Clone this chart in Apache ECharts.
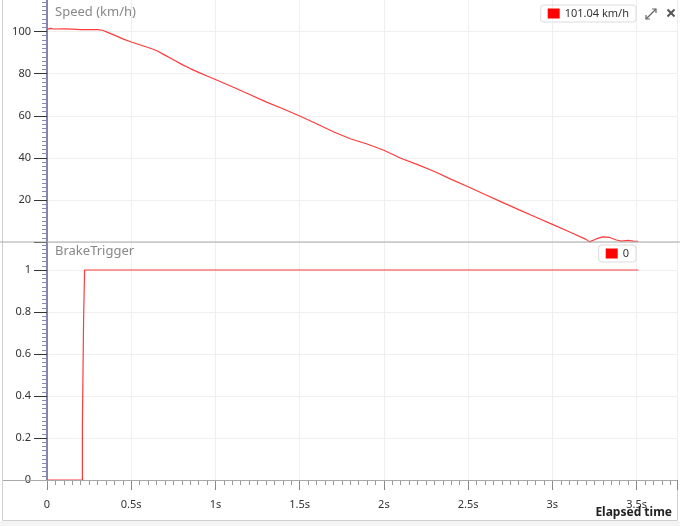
<!DOCTYPE html>
<html>
<head>
<meta charset="utf-8">
<script src="https://cdn.jsdelivr.net/npm/echarts@6/dist/echarts.min.js"></script>
<style>
html,body{margin:0;padding:0;background:#fff;}
#c{width:680px;height:526px;}
</style>
</head>
<body>
<div id="c"></div>
<script>
// ---- data ----
var speedTime = [0, 0.02, 0.04, 0.1, 0.15, 0.2, 0.3, 0.33, 0.36, 0.4, 0.45, 0.5, 0.55, 0.6, 0.65, 0.7, 0.75, 0.8, 0.85, 0.9, 0.95, 1.0, 1.1, 1.2, 1.3, 1.4, 1.5, 1.6, 1.7, 1.8, 1.9, 2.0, 2.1, 2.2, 2.3, 2.4, 2.5, 2.6, 2.7, 2.8, 2.9, 3.0, 3.1, 3.2, 3.22, 3.26, 3.3, 3.34, 3.38, 3.41, 3.45, 3.48, 3.51];
var speedValues = [101.04, 101.5, 101.2, 101.3, 101.1, 100.9, 100.9, 100.6, 99.6, 98.3, 96.5, 95.0, 93.7, 92.4, 91.0, 88.8, 86.6, 84.4, 82.4, 80.6, 78.9, 77.2, 73.8, 70.2, 66.6, 63.3, 59.9, 56.2, 52.4, 49.1, 46.6, 43.6, 39.8, 36.8, 33.5, 29.8, 26.3, 22.6, 19.0, 15.4, 11.9, 8.4, 4.9, 1.3, 0.1, 1.5, 2.5, 2.2, 1.0, 0.5, 0.8, 0.5, 0.4];
var brakeTime = [0, 0.21, 0.21, 0.217, 0.217, 0.223, 0.223, 3.51];
var brakeValues = [0, 0, 0.25, 0.25, 0.75, 0.75, 1, 1];
var speedTitle = 'Speed (km/h)';
var brakeTitle = 'BrakeTrigger';
var speedUnit = ' km/h';
var xAxisName = 'Elapsed time';

function pairs(t, v) { return t.map(function (x, i) { return [x, v[i]]; }); }

var FONT = 'Noto Sans';
var RED = '#ff3b3b';
var chart = echarts.init(document.getElementById('c'), null, {renderer: 'canvas'});

var xMax = 3.74;
var splitLineStyle = {show: true, lineStyle: {color: '#efefef', width: 1}};

var option = {
  animation: false,
  backgroundColor: '#fff',
  title: [
    {text: speedTitle, left: 55, top: 6, padding: 0, textStyle: {fontSize: 13, color: '#888', fontWeight: 'normal', fontFamily: FONT}},
    {text: brakeTitle, left: 55, top: 245, padding: 0, textStyle: {fontSize: 13, color: '#888', fontWeight: 'normal', fontFamily: FONT}}
  ],
  legend: [
    {data: [speedTitle], right: 44, top: 5, icon: 'rect', itemWidth: 12, itemHeight: 10, itemGap: 5,
     borderColor: '#dcdcdc', borderWidth: 1, borderRadius: 3, padding: [3, 7, 3, 7],
     formatter: function () { return speedValues[0].toFixed(2) + speedUnit; },
     textStyle: {fontSize: 11, color: '#333', fontFamily: FONT}},
    {data: [brakeTitle], right: 44, top: 245, icon: 'rect', itemWidth: 12, itemHeight: 10,
     borderColor: '#dcdcdc', borderWidth: 1, borderRadius: 3, padding: [3, 7, 3, 7],
     formatter: function () { return String(brakeValues[0]); },
     textStyle: {fontSize: 11, color: '#333', fontFamily: FONT}}
  ],
  grid: [
    {left: 47, right: 3, top: -10.6, height: 252.7, outerBoundsMode: 'none', containLabel: false},
    {left: 47, right: 3, top: 242, height: 238, outerBoundsMode: 'none', containLabel: false}
  ],
  xAxis: [
    {type: 'value', gridIndex: 0, min: 0, max: xMax, interval: 0.5,
     axisLine: {show: false}, axisTick: {show: false}, axisLabel: {show: false}, splitLine: splitLineStyle},
    {type: 'value', gridIndex: 1, min: 0, max: xMax, interval: 0.5,
     axisLine: {show: false},
     axisTick: {show: true, length: 10, lineStyle: {color: '#888'}},
     minorTick: {show: true, splitNumber: 10, length: 5, lineStyle: {color: '#999'}},
     axisLabel: {margin: 19, color: '#333', fontSize: 11, fontFamily: FONT, showMaxLabel: false,
       formatter: function (v) { return v === 0 ? '0' : (+v.toFixed(2)) + 's'; }},
     splitLine: splitLineStyle}
  ],
  yAxis: [
    {type: 'value', gridIndex: 0, min: 0, max: 120, interval: 20,
     axisLine: {show: true, lineStyle: {color: '#8585b3', width: 2}},
     axisTick: {show: true, length: 13, lineStyle: {color: '#333'}},
     minorTick: {show: true, splitNumber: 10, length: 5, lineStyle: {color: '#8a8ab5'}},
     axisLabel: {margin: 16, color: '#333', fontSize: 11, fontFamily: FONT, showMinLabel: false, showMaxLabel: false},
     splitLine: splitLineStyle},
    {type: 'value', gridIndex: 1, min: 0, max: 1.1333, interval: 0.2,
     axisLine: {show: true, lineStyle: {color: '#8585b3', width: 2}},
     axisTick: {show: true, length: 13, lineStyle: {color: '#333'}},
     minorTick: {show: true, splitNumber: 10, length: 5, lineStyle: {color: '#8a8ab5'}},
     axisLabel: {margin: 16, color: '#333', fontSize: 11, fontFamily: FONT, showMaxLabel: false,
       formatter: function (v) { var r = v / 0.2; return Math.abs(r - Math.round(r)) < 1e-6 ? String(+v.toFixed(1)) : ''; }},
     splitLine: splitLineStyle}
  ],
  series: [
    {name: speedTitle, type: 'line', xAxisIndex: 0, yAxisIndex: 0, data: pairs(speedTime, speedValues),
     showSymbol: false, lineStyle: {color: RED, width: 1.2}, itemStyle: {color: '#ff0000'}},
    {name: brakeTitle, type: 'line', xAxisIndex: 1, yAxisIndex: 1, data: pairs(brakeTime, brakeValues),
     showSymbol: false, lineStyle: {color: RED, width: 1.2}, itemStyle: {color: '#ff0000'}}
  ],
  graphic: [
    {type: 'rect', shape: {x: 2.5, y: -2, width: 675, height: 522.5}, style: {fill: 'none', stroke: '#d0d0d0', lineWidth: 1}, silent: true, z: 0},
    {type: 'rect', shape: {x: 0, y: 521, width: 680, height: 5}, style: {fill: '#f4f4f4'}, silent: true},
    {type: 'line', shape: {x1: 0, y1: 242, x2: 680, y2: 242}, style: {stroke: '#a8a8a8', lineWidth: 1}, silent: true, z: 10},
    {type: 'line', shape: {x1: 3, y1: 480.5, x2: 677, y2: 480.5}, style: {stroke: '#a8a8a8', lineWidth: 1}, silent: true, z: 10},
    {type: 'text', right: 8, top: 507, style: {text: xAxisName, fill: '#222', font: 'bold 12px "Noto Sans"'}},
    // expand icon
    {type: 'polyline', shape: {points: [[646, 19], [656, 9]]}, style: {stroke: '#666', lineWidth: 1.2}, silent: true},
    {type: 'polyline', shape: {points: [[652, 9], [656, 9], [656, 13]]}, style: {stroke: '#666', lineWidth: 1.2, fill: 'none'}, silent: true},
    {type: 'polyline', shape: {points: [[646, 15], [646, 19], [650, 19]]}, style: {stroke: '#666', lineWidth: 1.2, fill: 'none'}, silent: true},
    // close icon
    {type: 'line', shape: {x1: 667.5, y1: 9.5, x2: 674.5, y2: 16.5}, style: {stroke: '#555', lineWidth: 2}, silent: true},
    {type: 'line', shape: {x1: 674.5, y1: 9.5, x2: 667.5, y2: 16.5}, style: {stroke: '#555', lineWidth: 2}, silent: true}
  ]
};
chart.setOption(option);
</script>
</body>
</html>
